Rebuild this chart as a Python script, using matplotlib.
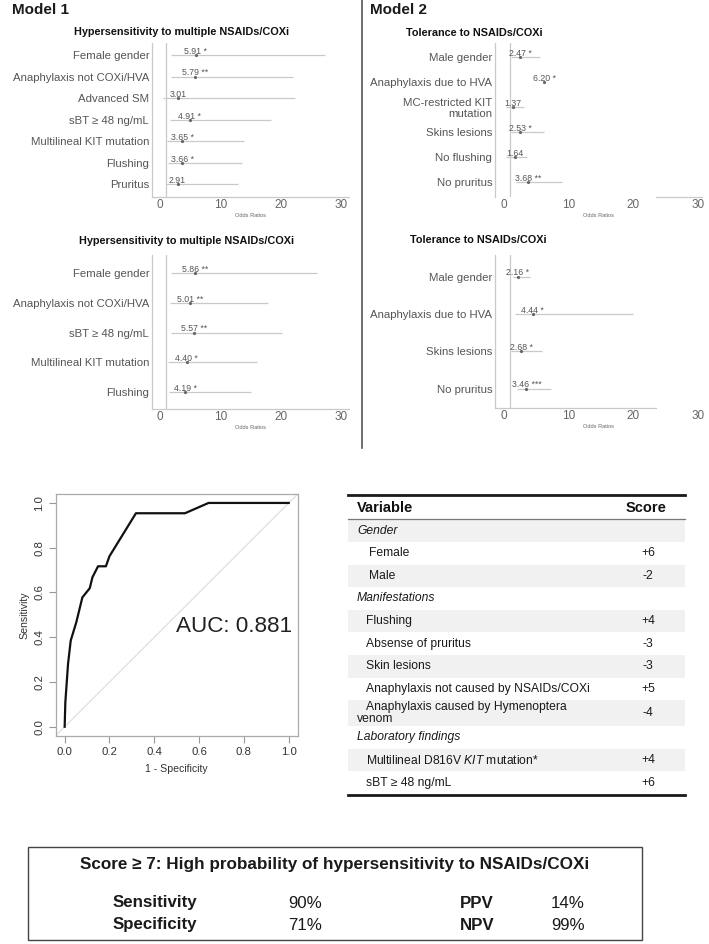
import matplotlib
matplotlib.use("Agg")
import matplotlib.pyplot as plt
from matplotlib.patches import Rectangle
import numpy as np

plt.rcParams['font.family'] = ['Liberation Sans', 'DejaVu Sans']
plt.rcParams['mathtext.fontset'] = 'custom'
plt.rcParams['mathtext.it'] = 'Liberation Sans:italic'
plt.rcParams['mathtext.rm'] = 'Liberation Sans'

# ---------------- data ----------------
m1a_labels = ["Female gender", "Anaphylaxis not COXi/HVA", "Advanced SM", "sBT ≥ 48 ng/mL",
              "Multilineal KIT mutation", "Flushing", "Pruritus"]
m1a_or = [5.91, 5.79, 3.01, 4.91, 3.65, 3.66, 2.91]
m1a_lo = [1.8, 1.8, 0.45, 1.65, 1.1, 1.3, 0.95]
m1a_hi = [27.4, 22.0, 22.4, 18.4, 14.0, 13.6, 12.9]
m1a_sig = ["*", "**", "", "*", "*", "*", ""]

m1b_labels = ["Female gender", "Anaphylaxis not COXi/HVA", "sBT ≥ 48 ng/mL",
              "Multilineal KIT mutation", "Flushing"]
m1b_or = [5.86, 5.01, 5.57, 4.40, 4.19]
m1b_lo = [1.9, 1.65, 1.9, 1.4, 1.55]
m1b_hi = [26.0, 17.9, 20.2, 16.0, 15.0]
m1b_sig = ["**", "**", "**", "*", "*"]

m2a_labels = ["Male gender", "Anaphylaxis due to HVA", "MC-restricted KIT\nmutation",
              "Skins lesions", "No flushing", "No pruritus"]
m2a_or = [2.47, 6.20, 1.37, 2.53, 1.64, 3.68]
m2a_lo = [1.05, np.nan, 0.3, 1.1, 0.3, 1.8]
m2a_hi = [5.5, np.nan, 3.1, 6.15, 3.5, 9.0]
m2a_sig = ["*", "*", "", "*", "", "**"]

m2b_labels = ["Male gender", "Anaphylaxis due to HVA", "Skins lesions", "No pruritus"]
m2b_or = [2.16, 4.44, 2.68, 3.46]
m2b_lo = [1.4, 1.7, 1.08, 1.95]
m2b_hi = [4.1, 19.9, 5.9, 7.3]
m2b_sig = ["*", "*", "*", "***"]

or_ticks = [0, 10, 20, 30]

roc_fpr = [0.0, 0.003, 0.015, 0.027, 0.052, 0.079, 0.112, 0.124, 0.149, 0.184, 0.20,
           0.318, 0.537, 0.642, 1.0]
roc_tpr = [0.0, 0.109, 0.28, 0.385, 0.467, 0.578, 0.619, 0.668, 0.717, 0.717, 0.762,
           0.954, 0.954, 1.0, 1.0]
auc_value = 0.881
roc_ticks = [0.0, 0.2, 0.4, 0.6, 0.8, 1.0]

table_vars = ["Gender", "Female", "Male", "Manifestations", "Flushing", "Absense of pruritus",
              "Skin lesions", "Anaphylaxis not caused by NSAIDs/COXi",
              "Anaphylaxis caused by Hymenoptera\nvenom", "Laboratory findings",
              "Multilineal D816V $\\it{KIT}$ mutation*", "sBT ≥ 48 ng/mL"]
table_kind = ["cat", "sub2", "sub2", "cat", "sub", "sub", "sub", "sub", "sub", "cat", "sub", "sub"]
table_scores = ["", "+6", "-2", "", "+4", "-3", "-3", "+5", "-4", "", "+4", "+6"]

perf_names_left = ["Sensitivity", "Specificity"]
perf_vals_left = ["90%", "71%"]
perf_names_right = ["PPV", "NPV"]
perf_vals_right = ["14%", "99%"]

# ---------------- figure ----------------
W, H = 709, 944
fig = plt.figure(figsize=(W / 100, H / 100), dpi=100)


def rect(l, t, r, b):
    return [l / W, 1 - b / H, (r - l) / W, (b - t) / H]


LINE = '#c9c9c9'
LAB = '#555555'


def forest(px, labels, ors, los, his, sigs, xlim, ylim, bounds=None):
    ax = fig.add_axes(rect(*px))
    ys = np.arange(1, len(labels) + 1)
    ax.axvline(1, color=LINE, lw=0.9, zorder=1)
    ax.hlines(ys, los, his, color=LINE, lw=0.9, zorder=2)
    ax.plot(ors, ys, 'o', ms=1.3, color='#666666', zorder=3)
    for o, y, s in zip(ors, ys, sigs):
        ax.annotate(f"{o:.2f} {s}".strip(), (o, y), xytext=(0, -0.6),
                    textcoords='offset points', ha='center', va='bottom',
                    fontsize=6.3, color='#555555', zorder=4)
    ax.set_xlim(*xlim)
    ax.set_ylim(*ylim)
    ax.set_yticks(ys)
    ax.set_yticklabels(labels, fontsize=8.2, color=LAB, linespacing=1.05)
    ax.set_xticks(or_ticks)
    ax.set_xticklabels([str(t) for t in or_ticks], fontsize=8.5, color='#666666')
    ax.tick_params(length=0, pad=2)
    ax.tick_params(axis='x', pad=1.5)
    ax.set_xlabel("Odds Ratios", fontsize=4.1, color='#666666', labelpad=1.2)
    for s in ['top', 'right']:
        ax.spines[s].set_visible(False)
    for s in ['left', 'bottom']:
        ax.spines[s].set_color(LINE)
        ax.spines[s].set_linewidth(0.9)
    if bounds is not None:
        ax.spines['bottom'].set_bounds(*bounds)
    return ax


forest((152, 43, 349, 197), m1a_labels, m1a_or, m1a_lo, m1a_hi, m1a_sig,
       (-1.33, 31.33), (7.59, 0.44))
forest((152, 255, 349, 409), m1b_labels, m1b_or, m1b_lo, m1b_hi, m1b_sig,
       (-1.33, 31.33), (5.58, 0.38))
forest((495, 43, 702, 197), m2a_labels, m2a_or, m2a_lo, m2a_hi, m2a_sig,
       (-1.38, 30.6), (6.59, 0.43), bounds=(23.5, 30.6))
forest((495, 255, 702, 408), m2b_labels, m2b_or, m2b_lo, m2b_hi, m2b_sig,
       (-1.38, 30.6), (4.52, 0.42), bounds=(-1.38, 23.5))

# ---------------- ROC ----------------
rax = fig.add_axes(rect(55.7, 494, 297.7, 735.7))
rax.axline((0, 0), (1, 1), color='#dcdcdc', lw=0.8, zorder=1)
rax.plot(roc_fpr, roc_tpr, color='#111111', lw=1.6, zorder=3)
rax.set_xlim(-0.04, 1.04)
rax.set_ylim(-0.04, 1.04)
rax.set_xticks(roc_ticks)
rax.set_yticks(roc_ticks)
rax.set_xticklabels([f"{t:.1f}" for t in roc_ticks], fontsize=8.2, color='#333333')
rax.set_yticklabels([f"{t:.1f}" for t in roc_ticks], fontsize=8.2, color='#333333',
                    rotation=90, va='center')
rax.tick_params(length=5, width=0.8, color='#999999', pad=3)
for s in rax.spines.values():
    s.set_color('#aaaaaa')
    s.set_linewidth(0.9)
rax.set_xlabel("1 - Specificity", fontsize=7.6, color='#333333', labelpad=5)
rax.set_ylabel("Sensitivity", fontsize=7.6, color='#333333', labelpad=4)
rax.text(1.017, 0.45, f"AUC: {auc_value:.3f}", ha='right', va='center', fontsize=16.2,
         color='#222222')

# ---------------- overlay (text, table, box) ----------------
ov = fig.add_axes([0, 0, 1, 1])
ov.set_xlim(0, W)
ov.set_ylim(H, 0)
ov.axis('off')

ov.text(12, 10, "Model 1", fontsize=11, fontweight='bold', va='center', ha='left', color='#1a1a1a')
ov.text(370, 10, "Model 2", fontsize=11, fontweight='bold', va='center', ha='left', color='#1a1a1a')
ov.plot([361.5, 361.5], [0, 448], color='#555555', lw=1.2)

ttl = dict(fontsize=7.8, fontweight='bold', ha='center', va='center', color='#111111')
ov.text(182, 31.7, "Hypersensitivity to multiple NSAIDs/COXi", **ttl)
ov.text(187, 241, "Hypersensitivity to multiple NSAIDs/COXi", **ttl)
ov.text(474.5, 33, "Tolerance to NSAIDs/COXi", **ttl)
ov.text(478, 240, "Tolerance to NSAIDs/COXi", **ttl)

# table
tl, tr = 348, 685
ov.plot([tl, tr], [495, 495], color='#1a1a1a', lw=2.0)
ov.text(357, 508, "Variable", fontsize=10.5, fontweight='bold', va='center', ha='left', color='#111111')
ov.text(646, 508, "Score", fontsize=10.5, fontweight='bold', va='center', ha='center', color='#111111')
ov.plot([tl, tr], [519.3, 519.3], color='#777777', lw=0.9)
row_h = [22.6 if '\n' not in v else 26.0 for v in table_vars]
y = 519.3
for i, (v, k, sc, h) in enumerate(zip(table_vars, table_kind, table_scores, row_h)):
    if i % 2 == 0:
        ov.add_patch(Rectangle((tl, y), tr - tl, h, facecolor='#f1f1f1', edgecolor='none', zorder=0))
    yc = y + h / 2
    if k == 'cat':
        ov.text(357, yc, v, fontsize=8.7, style='italic', va='center', ha='left', color='#1a1a1a')
    else:
        x0 = 369 if k == 'sub2' else 366
        parts = v.split('\n')
        if len(parts) == 1:
            ov.text(x0, yc, v, fontsize=8.7, va='center', ha='left', color='#1a1a1a')
        else:
            ov.text(x0, yc - 6.0, parts[0], fontsize=8.7, va='center', ha='left', color='#1a1a1a')
            ov.text(357, yc + 6.0, parts[1], fontsize=8.7, va='center', ha='left', color='#1a1a1a')
    if sc:
        ov.text(648, yc, sc, fontsize=8.7, va='center', ha='center', color='#1a1a1a')
    y += h
ov.plot([tl, tr], [y + 1, y + 1], color='#1a1a1a', lw=2.0)

# bottom box
ov.add_patch(Rectangle((28.3, 847.3), 642 - 28.3, 940 - 847.3, facecolor='none',
                       edgecolor='#444444', lw=1.0))
ov.text(335, 864, "Score ≥ 7: High probability of hypersensitivity to NSAIDs/COXi",
        fontsize=12.3, fontweight='bold', ha='center', va='center', color='#1a1a1a')
for j, yy in enumerate([903, 925]):
    ov.text(112.7, yy, perf_names_left[j], fontsize=12.2, fontweight='bold', ha='left', va='center', color='#1a1a1a')
    ov.text(288, yy, perf_vals_left[j], fontsize=12.2, ha='left', va='center', color='#1a1a1a')
    ov.text(460, yy, perf_names_right[j], fontsize=12.2, fontweight='bold', ha='left', va='center', color='#1a1a1a')
    ov.text(551, yy, perf_vals_right[j], fontsize=12.2, ha='left', va='center', color='#1a1a1a')

fig.savefig("out.png", dpi=100)
